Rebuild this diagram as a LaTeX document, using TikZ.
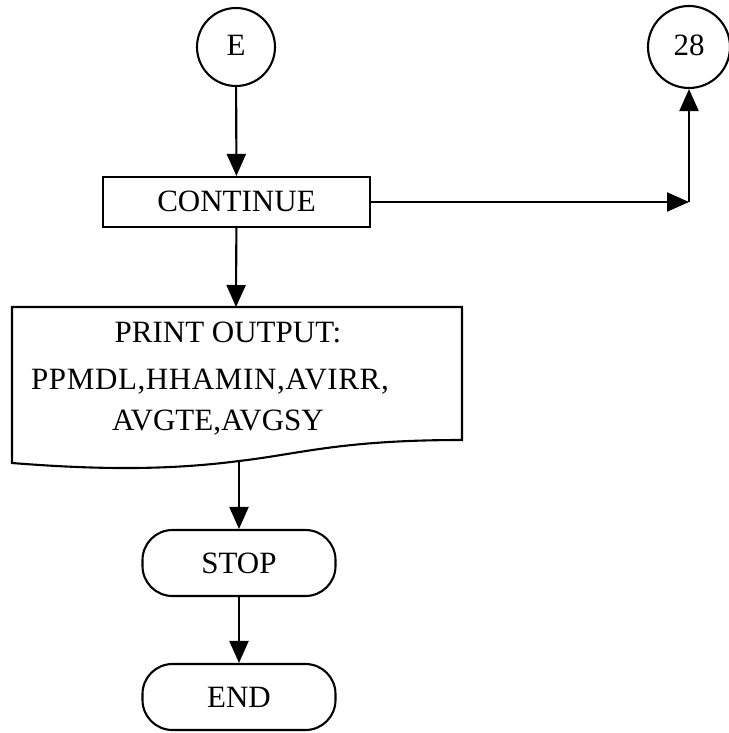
\documentclass[tikz,border=0pt]{standalone}
\usepackage{fontspec}
\setmainfont{Liberation Serif}
\newfontfamily\widefont[LetterSpace=2]{Liberation Serif}
\usetikzlibrary{arrows.meta}
\begin{document}
\begin{tikzpicture}[x=1pt,y=-1pt,
  every node/.style={font=\fontsize{31}{31}\selectfont, inner sep=0pt},
  line/.style={line width=2.1pt},
  arr/.style={line, -{Triangle[length=22pt,width=19pt]}},
  conn/.style={circle, draw, line width=2.1pt, minimum size=78pt},
  proc/.style={rectangle, draw, line width=2.1pt, minimum width=267pt, minimum height=50pt},
  term/.style={rectangle, rounded corners=30pt, draw, line width=2.1pt, minimum width=193pt, minimum height=66pt}]
\useasboundingbox (0,0) rectangle (728,733);
% connectors (circles)
\node[conn] (E) at (236,47) {\raisebox{3pt}{E}};
\node[conn, minimum size=82pt] (c28) at (689,47) {\raisebox{3pt}{28}};
% process box
\node[proc] (cont) at (236.5,202) {\raisebox{2pt}{CONTINUE}};
% document shape
\coordinate (doctop) at (236,307);
\coordinate (docbot) at (239,461);
\draw[line] (12,307) -- (462,307) -- (462,440)
  .. controls (340,440) and (300,454) .. (239,461)
  .. controls (170,470) and (100,470) .. (12,463) -- cycle;
\node[anchor=base] (t1) at (228,342) {PRINT OUTPUT:};
\node[anchor=base] (t2) at (210,389) {\widefont PPMDL,HHAMIN,AVIRR,};
\node[anchor=base] (t3) at (218,430) {AVGTE,AVGSY};
% terminals
\node[term] (stop) at (239,563) {STOP};
\node[term] (end) at (239,697) {END};
% corner
\coordinate (corner) at (689,202);
% arrows
\draw[arr] (E) -- (cont);
\draw[arr] (cont) -- (doctop);
\draw[arr] (docbot) -- (stop);
\draw[arr] (stop) -- (end);
\draw[arr] (cont.east) -- (corner);
\draw[arr] (corner) -- (c28);
\end{tikzpicture}
\end{document}
